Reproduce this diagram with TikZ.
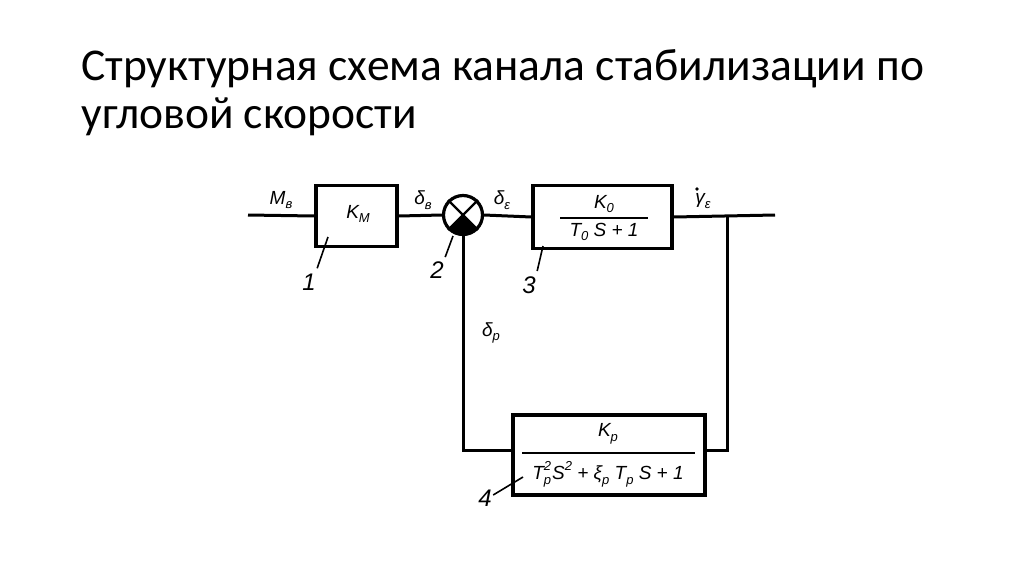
\documentclass[tikz,border=0pt]{standalone}
\usepackage{fontspec}
\setmainfont{Carlito}
\newfontfamily\labf{Liberation Sans}
\newcommand\lsub[1]{\raisebox{-0.45ex}{\fontsize{13}{13}\selectfont #1}}
\newcommand\lsup[1]{\raisebox{0.95ex}{\fontsize{13}{13}\selectfont #1}}
\begin{document}
\begin{tikzpicture}[x=1pt,y=-1pt,line width=3pt,
  blk/.style={draw,line width=3.2pt,inner sep=0pt},
  lab/.style={font=\labf\itshape\fontsize{19}{19}\selectfont,inner sep=0pt},
  num/.style={font=\labf\itshape\fontsize{24}{24}\selectfont,inner sep=0pt},
  ldr/.style={line width=1.6pt},
  ttl/.style={font=\fontsize{45.5}{45.5}\selectfont,inner sep=0pt,anchor=base west}]
\useasboundingbox[fill=white] (0,0) rectangle (1024,576);
% title
\node[ttl] (t1) at (80,80) {Структурная схема канала стабилизации по};
\node[ttl] (t2) at (80,128) {угловой скорости};
% blocks
\node[blk,minimum width=81pt,minimum height=61pt] (km) at (356.5,216) {};
\node[lab] (kmt) at (358,214) {K\lsub{М}};
\node[blk,circle,minimum size=39pt] (sum) at (463,215) {};
\node[blk,minimum width=139pt,minimum height=63pt] (obj) at (602.5,217) {};
\node[lab] (objn) at (604,204) {K\lsub{0}};
\node[lab] (objd) at (604,232) {T\lsub{0} S + 1};
\node[blk,minimum width=192pt,minimum height=80pt] (reg) at (609,455) {};
\node[lab] (regn) at (608,434) {K\lsub{p}};
\node[lab] (regd) at (608,474) {T\rlap{\lsub{p}}\lsup{2}\kern0.05em S\lsup{2} + ξ\lsub{p} T\lsub{p} S + 1};
% fraction bars
\draw[line width=1.8pt] (560,218) coordinate (f3a) -- (648,218) coordinate (f3b);
\draw[line width=1.8pt] (522,453) coordinate (f4a) -- (695,453) coordinate (f4b);
% summing junction details
\draw[line width=2.4pt] (sum.45) -- (sum.225) (sum.135) -- (sum.315);
\begin{scope}
\clip (sum.center) -- ++(-30,30) -- ++(60,0) -- cycle;
\fill (sum.center) circle[radius=19pt];
\end{scope}
% connectors
\coordinate (in) at (248,215);
\coordinate (out) at (775,215);
\coordinate (br) at (727,215);
\coordinate (c1) at (727,450);
\coordinate (c2) at (463,450);
\draw (in) -- (km.west);
\draw (km.east) -- (sum.west);
\draw (sum.east) -- (obj.west);
\draw (obj.east) -- (out);
\draw (br) -- (c1) -- (reg.east |- c1);
\draw (reg.west |- c2) -- (c2) -- (sum.south);
% signal labels
\node[lab] (mv) at (281,200) {M\lsub{в}};
\node[lab] (dv) at (423,200) {δ\lsub{в}};
\node[lab] (de) at (502,200) {δ\lsub{ε}};
\node[lab] (ge) at (703,201) {γ\lsub{ε}};
\fill (697,189) circle[radius=1.8pt];
\node[lab] (dp) at (491,333) {δ\lsub{p}};
% numbers and leaders
\node[num] (n1) at (309,282) {1};
\node[num] (n2) at (437,270) {2};
\node[num] (n3) at (529,285) {3};
\node[num] (n4) at (485,498) {4};
\coordinate (l1) at (328,237);
\coordinate (l2) at (453,236);
\coordinate (l3) at (543,246);
\coordinate (l4) at (523,477);
\draw[ldr] (n1.north east) ++(0,-4) -- (l1);
\draw[ldr] (n2.north east) ++(0,-3) -- (l2);
\draw[ldr] (n3.north east) ++(0,-4) -- (l3);
\draw[ldr] (n4.east) ++(0,-3) -- (l4);
\end{tikzpicture}
\end{document}
